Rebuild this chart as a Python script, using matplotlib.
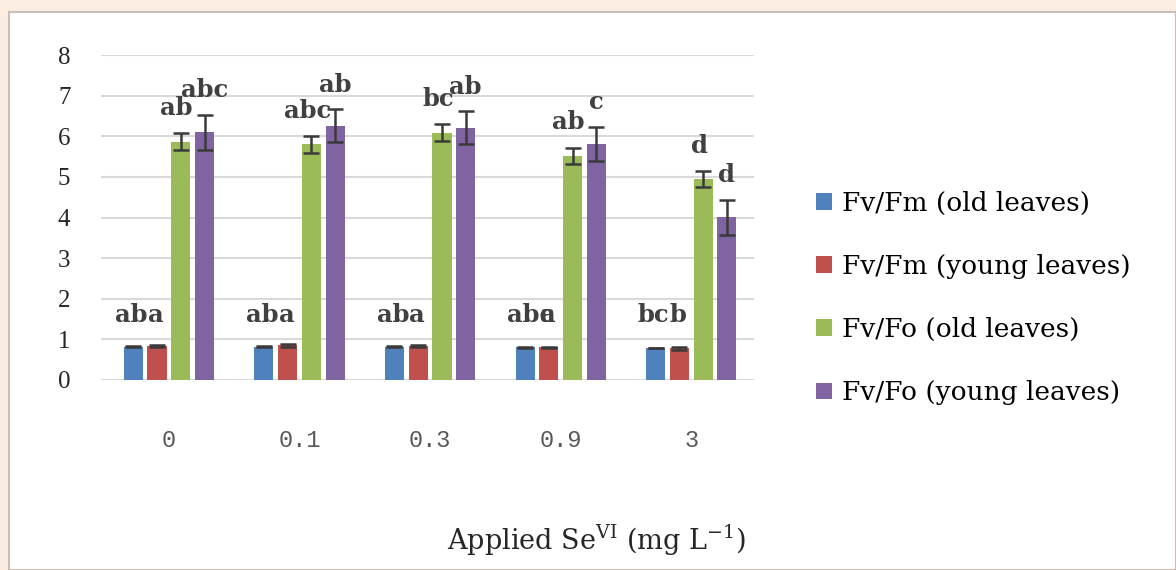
import matplotlib
matplotlib.use("Agg")
import matplotlib.pyplot as plt
import numpy as np
from matplotlib.patches import Rectangle

plt.rcParams["mathtext.fontset"] = "dejavuserif"

categories = ["0", "0.1", "0.3", "0.9", "3"]
series_names = ["Fv/Fm (old leaves)", "Fv/Fm (young leaves)",
                "Fv/Fo (old leaves)", "Fv/Fo (young leaves)"]
fvfm_old = [0.82, 0.82, 0.82, 0.81, 0.79]
fvfm_young = [0.84, 0.85, 0.84, 0.81, 0.78]
fvfo_old = [5.87, 5.80, 6.09, 5.52, 4.94]
fvfo_young = [6.10, 6.26, 6.21, 5.81, 4.01]
err_fvfm_old = [0.01, 0.01, 0.01, 0.01, 0.01]
err_fvfm_young = [0.03, 0.03, 0.03, 0.01, 0.03]
err_fvfo_old = [0.20, 0.20, 0.20, 0.20, 0.20]
err_fvfo_young = [0.43, 0.40, 0.41, 0.43, 0.43]
letters_fvfm_old = ["ab", "ab", "ab", "abc", "bc"]
letters_fvfm_young = ["a", "a", "a", "a", "b"]
letters_fvfo_old = ["ab", "abc", "bc", "ab", "d"]
letters_fvfo_young = ["abc", "ab", "ab", "c", "d"]

colors = ["#4F81BD", "#C0504D", "#9BBB59", "#8064A2"]
values = [fvfm_old, fvfm_young, fvfo_old, fvfo_young]
errors = [err_fvfm_old, err_fvfm_young, err_fvfo_old, err_fvfo_young]

W, H = 1176, 570
fig = plt.figure(figsize=(W / 100, H / 100), dpi=100)
fig.patch.set_facecolor("#FCEDE2")
# white panel
panel = Rectangle((9 / W, 0), 1 - 9 / W, (H - 12) / H, transform=fig.transFigure,
                  facecolor="white", edgecolor="#C9BFB6", linewidth=1.5, zorder=-10)
fig.patches.append(panel)

ax = fig.add_axes([101 / W, (H - 380) / H, (754 - 101) / W, (380 - 55) / H])
ax.set_facecolor("none")
x = np.arange(len(categories))
offsets = [-0.273, -0.091, 0.091, 0.273]
bw = 0.146
for vals, errs, col, off, name in zip(values, errors, colors, offsets, series_names):
    ax.bar(x + off, vals, width=bw, color=col, label=name, zorder=3,
           yerr=errs, error_kw=dict(ecolor="#3A3A3A", elinewidth=1.8, capsize=5.5,
                                    capthick=1.8, zorder=4))

ax.set_ylim(0, 8)
ax.set_xlim(-0.52, 4.48)
ax.set_yticks(range(0, 9))
ax.yaxis.grid(True, color="#D9D9D9", linewidth=1.5, zorder=0)
ax.set_axisbelow(True)
for s in ax.spines.values():
    s.set_visible(False)
ax.tick_params(length=0)
ax.set_xticks(x)
ax.set_xticklabels(categories, family="Liberation Mono", fontsize=17, color="#595959")
ax.tick_params(axis="x", pad=35)
ax.tick_params(axis="y", pad=22)
for lab in ax.get_yticklabels():
    lab.set_family("Liberation Serif")
    lab.set_fontsize(18)
    lab.set_color("#262626")

ann = dict(va="center", family="DejaVu Serif", fontweight="bold",
           fontsize=17.5, color="#404040", zorder=6)
for i in range(len(categories)):
    ax.text(x[i] - 0.41, 1.6, letters_fvfm_old[i], ha="left", **ann)
    ax.text(x[i] - 0.04, 1.6, letters_fvfm_young[i], ha="right", **ann)
    ax.text(x[i] + 0.06, fvfo_old[i] + err_fvfo_old[i] + 0.62, letters_fvfo_old[i],
            ha="center", **ann)
    ax.text(x[i] + 0.27, fvfo_young[i] + err_fvfo_young[i] + 0.60, letters_fvfo_young[i],
            ha="center", **ann)

handles, labels = ax.get_legend_handles_labels()
leg = fig.legend(handles, labels, loc="center left", bbox_to_anchor=(792 / W, (H - 298) / H),
                 frameon=False, prop=dict(family="DejaVu Serif", size=19),
                 handlelength=0.6, handleheight=0.6, handletextpad=0.4, labelspacing=1.45)

fig.text(597 / W, (H - 540) / H,
         r"Applied Se$^{\mathrm{VI}}$ (mg L$^{\mathrm{-1}}$)",
         ha="center", va="center", family="DejaVu Serif", fontsize=19.5, color="#262626")

fig.savefig("out.png", dpi=100, facecolor=fig.get_facecolor())
